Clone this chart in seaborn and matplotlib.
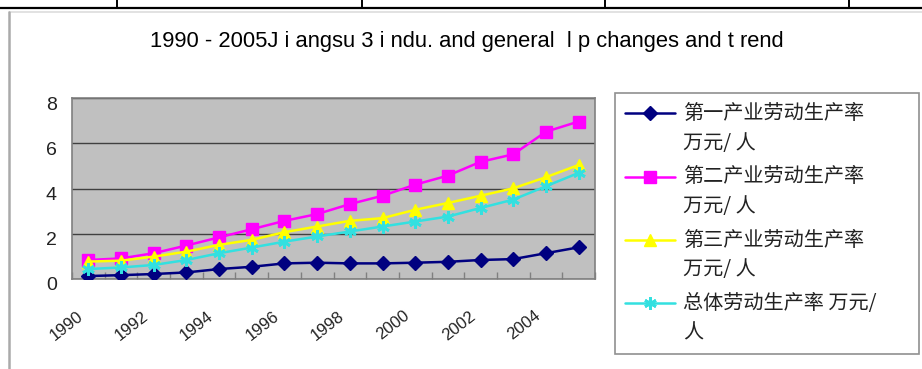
import numpy as np
import pandas as pd
import matplotlib
matplotlib.use("Agg")
import matplotlib.pyplot as plt
import matplotlib.transforms as mtransforms
from matplotlib.legend_handler import HandlerLine2D
from matplotlib.lines import Line2D
import seaborn as sns

# Labour productivity in Jiangsu, 10k yuan per worker
years = list(range(1990, 2006))
primary = [0.13, 0.17, 0.22, 0.29, 0.44, 0.54, 0.69, 0.72,
           0.69, 0.69, 0.72, 0.76, 0.84, 0.88, 1.14, 1.40]
secondary = [0.84, 0.91, 1.14, 1.48, 1.84, 2.20, 2.57, 2.87,
             3.31, 3.68, 4.17, 4.57, 5.18, 5.51, 6.51, 6.96]
tertiary = [0.77, 0.81, 0.99, 1.21, 1.51, 1.73, 2.07, 2.32,
            2.57, 2.69, 3.06, 3.36, 3.68, 4.01, 4.50, 5.04]
overall = [0.44, 0.51, 0.62, 0.84, 1.14, 1.39, 1.65, 1.88,
           2.10, 2.32, 2.54, 2.76, 3.14, 3.51, 4.10, 4.69]

series_names = ["第一产业劳动生产率\n万元/ 人",
                "第二产业劳动生产率\n万元/ 人",
                "第三产业劳动生产率\n万元/ 人",
                "总体劳动生产率 万元/\n人"]
y_ticks = [0, 2, 4, 6, 8]
x_tick_years = [1990, 1992, 1994, 1996, 1998, 2000, 2002, 2004]
title = "1990 - 2005J i angsu 3 i ndu. and general  l p changes and t rend"

sns.set_theme(style="white")
plt.rcParams["font.family"] = ["Liberation Sans", "Noto Sans CJK SC", "DejaVu Sans"]

W, H = 922, 369
fig = plt.figure(figsize=(W / 100, H / 100), dpi=100)
fig.patch.set_facecolor("white")


def fx(px):
    return px / W


def fy(py):
    return 1 - py / H


# page table rule above the chart and the chart frame
fig.add_artist(Line2D([0, 1], [fy(8), fy(8)], color="black", lw=1.6))
for xv in [117, 362, 605, 849]:
    fig.add_artist(Line2D([fx(xv), fx(xv)], [fy(0), fy(8)], color="black", lw=1.4))
fig.add_artist(Line2D([fx(9), 1], [fy(12), fy(12)], color="#dddddd", lw=1.2))
fig.add_artist(Line2D([fx(9), fx(9)], [fy(12), 0], color="#aaaaaa", lw=1.8))

ax = fig.add_axes([fx(72), fy(279), fx(595) - fx(72), fy(98) - fy(279)])
ax.set_facecolor("#c0c0c0")

df = pd.DataFrame({
    "pos": np.arange(len(years)),
    series_names[0]: primary,
    series_names[1]: secondary,
    series_names[2]: tertiary,
    series_names[3]: overall,
})
long = df.melt(id_vars="pos", var_name="series", value_name="value")

styles = {
    series_names[0]: dict(color="#000080", marker="D", markersize=7, markeredgewidth=1),
    series_names[1]: dict(color="#ff00ff", marker="s", markersize=8, markeredgewidth=1),
    series_names[2]: dict(color="#ffff00", marker="^", markersize=8, markeredgewidth=1),
    series_names[3]: dict(color="#33e0e0", marker=(6, 2, 0), markersize=9, markeredgewidth=2),
}
for name in series_names:
    st = styles[name]
    sub = long[long["series"] == name]
    sns.lineplot(data=sub, x="pos", y="value", ax=ax, color=st["color"],
                 marker=st["marker"], markersize=st["markersize"],
                 markeredgecolor=st["color"], markerfacecolor=st["color"],
                 markeredgewidth=st["markeredgewidth"], linewidth=1.8,
                 label=name, zorder=3)
if ax.get_legend() is not None:
    ax.get_legend().remove()

ax.set_xlim(-0.5, len(years) - 0.5)
ax.set_ylim(0, 8)
ax.set_xlabel("")
ax.set_ylabel("")

ax.yaxis.grid(True, color="#404040", lw=1)
ax.xaxis.grid(False)
ax.set_axisbelow(True)
for sp in ax.spines.values():
    sp.set_color("#808080")
    sp.set_linewidth(1.2)

ax.set_yticks(y_ticks)
ax.set_yticklabels([str(v) for v in y_ticks])
ax.tick_params(axis="y", left=False, pad=5, labelsize=14, labelcolor="#222222")
for lab in ax.get_yticklabels():
    lab.set_transform(lab.get_transform() +
                      mtransforms.ScaledTranslation(0, -5 / 100, fig.dpi_scale_trans))

ax.set_xticks([years.index(y) for y in x_tick_years])
ax.set_xticklabels([str(y) for y in x_tick_years], rotation=38, ha="right",
                   va="top", rotation_mode="anchor")
ax.set_xticks(np.arange(-0.5, len(years)), minor=True)
ax.tick_params(axis="x", which="major", bottom=True, length=0, pad=21,
               labelsize=12, labelcolor="#222222")
ax.tick_params(axis="x", which="minor", bottom=True, direction="in",
               length=5, width=1, color="#808080")
for lab in ax.get_xticklabels():
    lab.set_transform(lab.get_transform() +
                      mtransforms.ScaledTranslation(-12 / 100, 0, fig.dpi_scale_trans))

fig.text(fx(467), fy(42), title, ha="center", va="center", fontsize=15.8,
         family=["Liberation Sans", "DejaVu Sans"], color="black")


class FirstLineHandler(HandlerLine2D):
    """Line handle lifted so it sits beside the first line of a two-line label."""

    def __init__(self, shift, **kw):
        super().__init__(**kw)
        self.shift = shift

    def create_artists(self, legend, orig_handle, xdescent, ydescent,
                       width, height, fontsize, trans):
        artists = super().create_artists(legend, orig_handle, xdescent, ydescent,
                                         width, height, fontsize, trans)
        for a in artists:
            a.set_ydata(np.asarray(a.get_ydata(), dtype=float) + self.shift)
        return artists


handles, labels = ax.get_legend_handles_labels()
leg = fig.legend(handles, labels, loc="upper left",
                 bbox_to_anchor=(fx(615), fy(343), fx(919) - fx(615), fy(93) - fy(343)),
                 mode="expand", frameon=True, fancybox=False, shadow=False,
                 edgecolor="#909090", facecolor="white", framealpha=1,
                 handlelength=2.5, handletextpad=0.4, borderpad=0.5,
                 labelspacing=0.62, borderaxespad=0,
                 handler_map={Line2D: FirstLineHandler(11.6)},
                 prop={"family": ["Noto Sans CJK SC", "DejaVu Sans"], "size": 14.5})
leg.get_frame().set_linewidth(1.2)
for t in leg.get_texts():
    t.set_linespacing(1.55)
    t.set_color("#222222")

fig.savefig("out.png", dpi=100, facecolor="white")
